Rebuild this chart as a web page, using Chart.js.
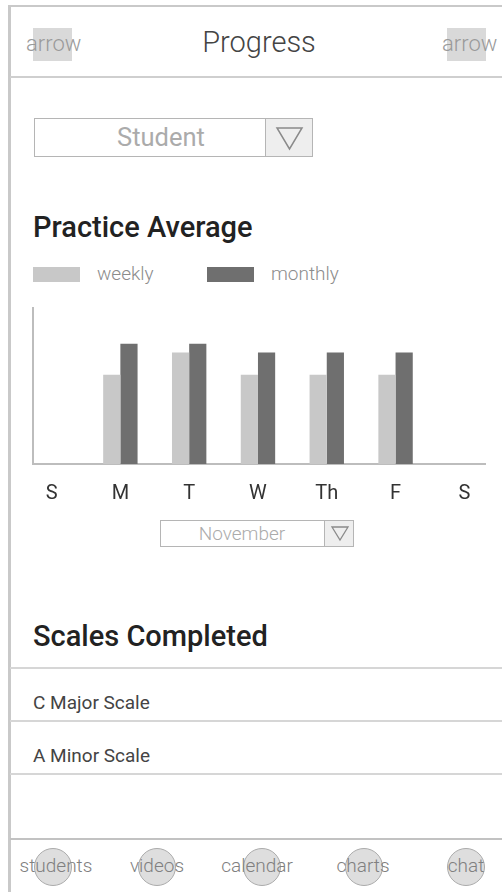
<!DOCTYPE html>
<html>
<head>
<meta charset="utf-8">
<script src="https://cdn.jsdelivr.net/npm/chart.js@4/dist/chart.umd.min.js"></script>
<style>
  html, body { margin: 0; padding: 0; background: #fff; }
  body { width: 502px; height: 892px; position: relative; overflow: hidden; font-family: Roboto, "Noto Sans", sans-serif; }
  .abs { position: absolute; }
  .frame { left: 8px; top: 5px; width: 600px; height: 1000px; border-left: 3px solid #c9c9c9; border-top: 2px solid #c9c9c9; }
  .hline { height: 2px; background: #d6d6d6; left: 10px; width: 492px; }
  .t { white-space: nowrap; }
  .arrowbox { background: #d9d9d9; }
  .arrowtxt { color: #9a9a9a; font-size: 22px; font-weight: 300; line-height: 30px; }
  .dd { border: 1.5px solid #b5b5b5; box-sizing: border-box; background: #fff; }
  .ddbtn { background: #eeeeee; border-left: 1.5px solid #b5b5b5; box-sizing: border-box; }
  .h2 { font-size: 29px; font-weight: 500; color: #222; }
  .item { font-size: 19px; color: #444; }
  .nav-c { width: 36px; height: 36px; border-radius: 50%; background: #dedede; border: 1.5px solid #ababab; }
  .nav-t { font-size: 19px; color: #808080; font-weight: 300; width: 120px; text-align: center; line-height: 24px; }
  .leg-sw { height: 15px; }
  .leg-t { font-size: 19px; color: #8c8c8c; font-weight: 300; line-height: 20px; }
</style>
</head>
<body>
<div class="abs frame"></div>
<!-- header -->
<div class="abs arrowbox" style="left:33px;top:28px;width:39px;height:33px;"></div>
<div class="abs t arrowtxt" style="left:26px;top:29px;">arrow</div>
<div class="abs arrowbox" style="left:447px;top:28px;width:39px;height:33px;"></div>
<div class="abs t arrowtxt" style="left:442px;top:29px;">arrow</div>
<div class="abs t" style="left:159px;width:200px;text-align:center;top:25px;font-size:29px;font-weight:300;color:#444;line-height:35px;">Progress</div>
<div class="abs hline" style="top:76px;background:#cfcfcf;"></div>

<!-- student dropdown -->
<div class="abs dd" style="left:34px;top:118px;width:279px;height:39px;"></div>
<div class="abs t" style="left:34px;top:119px;width:254px;text-align:center;font-size:25.5px;color:#ababab;line-height:37px;font-weight:400;">Student</div>
<div class="abs ddbtn" style="left:265px;top:119px;width:47px;height:37px;"></div>
<svg class="abs" style="left:265px;top:118px;" width="48" height="39"><polygon points="12,10 37,10 24.5,31" fill="none" stroke="#8a8a8a" stroke-width="1.5"/></svg>

<div class="abs t h2" style="left:33px;top:210px;line-height:34px;">Practice Average</div>

<!-- legend -->
<div id="legend"></div>

<!-- chart -->
<canvas id="chart" class="abs" style="left:0;top:300px;" width="502" height="220"></canvas>

<!-- month dropdown -->
<div class="abs dd" style="left:160px;top:520px;width:194px;height:27px;"></div>
<div class="abs t" style="left:160px;top:521px;width:164px;text-align:center;font-size:19px;color:#ababab;line-height:25px;font-weight:300;">November</div>
<div class="abs ddbtn" style="left:324px;top:521px;width:29px;height:25px;"></div>
<svg class="abs" style="left:324px;top:520px;" width="30" height="27"><polygon points="8,7 24,7 16,20" fill="none" stroke="#8a8a8a" stroke-width="1.3"/></svg>

<!-- scales completed -->
<div class="abs t h2" style="left:33px;top:619px;line-height:34px;">Scales Completed</div>
<div class="abs hline" style="top:667px;"></div>
<div class="abs t item" style="left:33px;top:692px;line-height:22px;">C Major Scale</div>
<div class="abs hline" style="top:720px;"></div>
<div class="abs t item" style="left:33px;top:745px;line-height:22px;">A Minor Scale</div>
<div class="abs hline" style="top:773px;"></div>

<!-- bottom nav -->
<div class="abs hline" style="top:838px;background:#c2c2c2;"></div>
<div id="nav"></div>

<script>
// ---- data ----
const days = ["S", "M", "T", "W", "Th", "F", "S"];
const weekly = [0, 4, 5, 4, 4, 4, 0];
const monthly = [0, 5.4, 5.4, 5, 5, 5, 0];
const seriesNames = ["weekly", "monthly"];
const seriesColors = ["#c8c8c8", "#6f6f6f"];
const navItems = ["students", "videos", "calendar", "charts", "chat"];

// ---- legend (html) ----
const legPos = [{sw: 33, tx: 97}, {sw: 207, tx: 271}];
const legend = document.getElementById('legend');
seriesNames.forEach((n, i) => {
  const sw = document.createElement('div');
  sw.className = 'abs leg-sw';
  sw.style.left = legPos[i].sw + 'px'; sw.style.top = '267px'; sw.style.width = '47px';
  sw.style.background = seriesColors[i];
  legend.appendChild(sw);
  const tx = document.createElement('div');
  tx.className = 'abs t leg-t';
  tx.style.left = legPos[i].tx + 'px'; tx.style.top = '264px';
  tx.textContent = n;
  legend.appendChild(tx);
});

// ---- nav ----
const navCircle = [53, 157, 262, 364, 466];
const navText = [56, 157, 257, 363, 466];
const nav = document.getElementById('nav');
navItems.forEach((n, i) => {
  const c = document.createElement('div');
  c.className = 'abs nav-c';
  c.style.left = (navCircle[i] - 19) + 'px'; c.style.top = '848px';
  nav.appendChild(c);
  const t = document.createElement('div');
  t.className = 'abs t nav-t';
  t.style.left = (navText[i] - 60) + 'px'; t.style.top = '854px';
  t.textContent = n;
  nav.appendChild(t);
});

// ---- chart ----
const toPoints = arr => arr.map((v, i) => ({ x: i, y: v }));
new Chart(document.getElementById('chart'), {
  type: 'bar',
  data: {
    datasets: [
      { label: seriesNames[0], data: toPoints(weekly), backgroundColor: seriesColors[0], borderWidth: 0 },
      { label: seriesNames[1], data: toPoints(monthly), backgroundColor: seriesColors[1], borderWidth: 0 }
    ]
  },
  options: {
    responsive: false,
    devicePixelRatio: 1,
    animation: false,
    layout: { padding: { left: 33, right: 17, top: 8, bottom: 16 } },
    datasets: { bar: { categoryPercentage: 0.5, barPercentage: 1.0 } },
    plugins: { legend: { display: false }, tooltip: { enabled: false } },
    scales: {
      x: {
        type: 'linear',
        offset: false,
        min: -0.27, max: 6.3,
        grid: { display: false, drawTicks: false },
        border: { display: true, color: '#bdbdbd', width: 2 },
        ticks: {
          stepSize: 1, includeBounds: false, autoSkip: false,
          color: '#333', font: { family: 'Roboto', size: 20 }, padding: 18,
          callback: v => days[v] ?? ''
        },
        afterFit: s => { s.height = 40; }
      },
      y: {
        min: 0, max: 7,
        grid: { display: false, drawTicks: false },
        border: { display: true, color: '#bdbdbd', width: 2 },
        ticks: { display: false }
      }
    }
  }
});
</script>
</body>
</html>
